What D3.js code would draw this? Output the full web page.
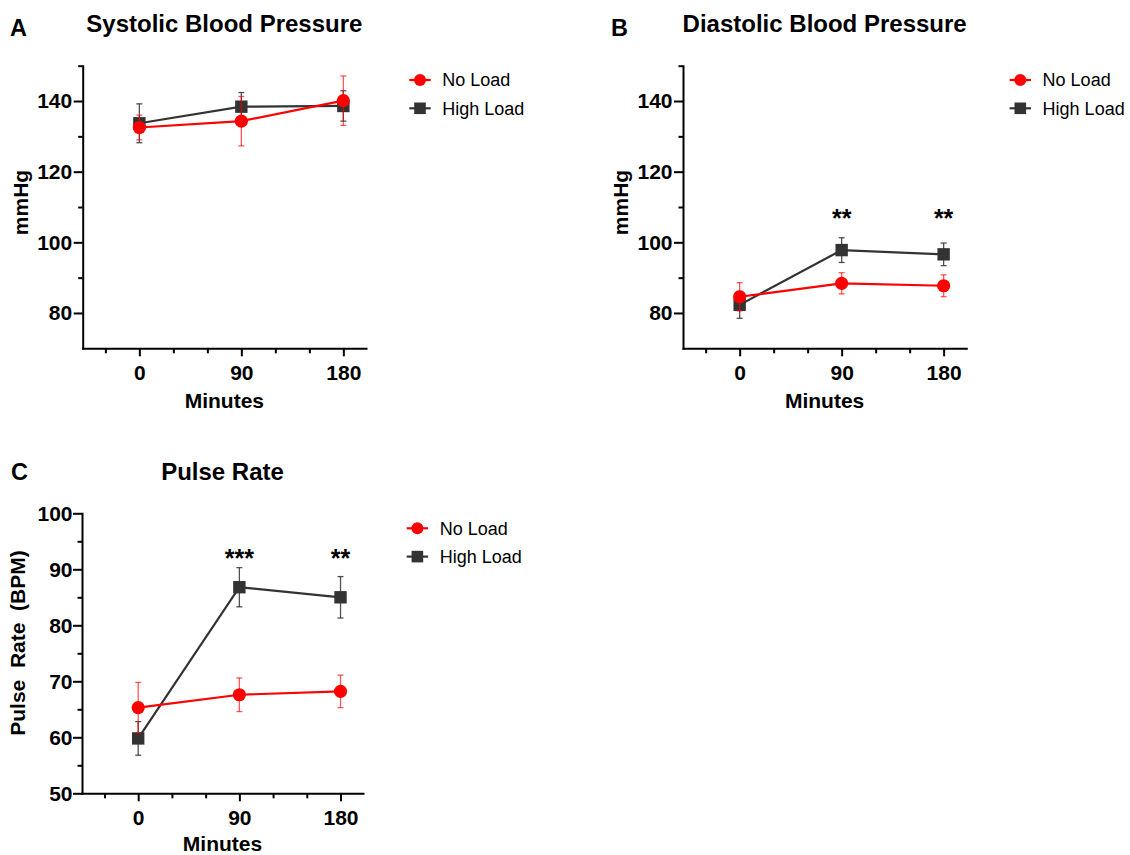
<!DOCTYPE html>
<html>
<head>
<meta charset="utf-8">
<title>Blood pressure and pulse</title>
<script src="https://cdn.jsdelivr.net/npm/d3@7"></script>
<style>
  body { margin: 0; background: #fff; }
  svg { display: block; font-family: "Liberation Sans", Arial, Helvetica, sans-serif; }
  .axis text { font-size: 21px; font-weight: bold; fill: #000; }
  .axis path, .axis line { stroke: #000; stroke-width: 2; }
  .axis path { stroke-linecap: square; }
</style>
</head>
<body>
<script>
// time points and labels
var minutes = [0, 90, 180];
var xMajorTicks = [0, 90, 180];
var xMinorTicks = [-30, 30, 60, 120, 150];
var seriesNames = ["No Load", "High Load"];

// systolic (mmHg), mean and error
var sbpNoLoad = [132.5, 134.3, 140.1];
var sbpNoLoadErr = [3.5, 7.0, 7.0];
var sbpHighLoad = [133.7, 138.4, 138.6];
var sbpHighLoadErr = [5.5, 4.0, 4.3];

// diastolic (mmHg)
var dbpNoLoad = [84.6, 88.4, 87.7];
var dbpNoLoadErr = [4.0, 3.0, 3.1];
var dbpHighLoad = [82.3, 97.8, 96.6];
var dbpHighLoadErr = [3.8, 3.5, 3.2];
var dbpStars = ["", "**", "**"];

// pulse rate (BPM)
var prNoLoad = [65.3, 67.6, 68.2];
var prNoLoadErr = [4.5, 3.0, 2.9];
var prHighLoad = [59.8, 86.8, 85.0];
var prHighLoadErr = [3.0, 3.5, 3.7];
var prStars = ["", "***", "**"];

// axis ticks
var bpMajorTicks = [80, 100, 120, 140];
var bpMinorTicks = [90, 110, 130, 150];
var prMajorTicks = [50, 60, 70, 80, 90, 100];
var prMinorTicks = [55, 65, 75, 85, 95];

var RED = "#ff0000", DARK = "#333333";

var svg = d3.select("body").append("svg")
  .attr("width", 1130)
  .attr("height", 855);

function drawPanel(p) {
  var x = d3.scaleLinear().domain([-50, 200]).range(p.xRange);
  var y = d3.scaleLinear().domain(p.yDomain).range(p.yRange);
  var g = svg.append("g");

  // y axis: major with labels, minor without
  g.append("g").attr("class", "axis")
    .attr("transform", "translate(" + p.xRange[0] + ",0)")
    .call(d3.axisLeft(y).tickValues(p.yMajor).tickSize(9).tickSizeOuter(0).tickPadding(p.yPad));
  g.append("g").attr("class", "axis")
    .attr("transform", "translate(" + p.xRange[0] + ",0)")
    .call(d3.axisLeft(y).tickValues(p.yMinor).tickSize(4.5).tickFormat(""))
    .select(".domain").remove();

  // x axis
  g.append("g").attr("class", "axis")
    .attr("transform", "translate(0," + p.yRange[0] + ")")
    .call(d3.axisBottom(x).tickValues(xMajorTicks).tickSize(8).tickSizeOuter(0).tickPadding(9));
  g.append("g").attr("class", "axis")
    .attr("transform", "translate(0," + p.yRange[0] + ")")
    .call(d3.axisBottom(x).tickValues(xMinorTicks).tickSize(5).tickFormat(""))
    .select(".domain").remove();

  // titles and labels
  var xMid = (p.xRange[0] + p.xRange[1]) / 2;
  g.append("text").text(p.title)
    .attr("x", xMid).attr("y", p.titleY)
    .attr("text-anchor", "middle")
    .style("font-size", "24px").style("font-weight", "bold");
  g.append("text").text(p.letter)
    .attr("x", p.letterX).attr("y", p.letterY)
    .style("font-size", "23.5px").style("font-weight", "bold");
  g.append("text").text("Minutes")
    .attr("x", xMid).attr("y", p.yRange[0] + p.minutesDy)
    .attr("text-anchor", "middle")
    .style("font-size", "21px").style("font-weight", "bold");
  g.append("text").text(p.yLabel)
    .attr("transform", "translate(" + p.yLabelX + "," + p.yLabelY + ") rotate(-90)")
    .attr("text-anchor", "middle")
    .style("white-space", "pre")
    .style("font-size", "21px").style("font-weight", "bold");

  // series: high load drawn first, no load on top
  var series = [
    { name: seriesNames[1], vals: p.high, err: p.highErr, color: DARK, shape: "square" },
    { name: seriesNames[0], vals: p.none, err: p.noneErr, color: RED, shape: "circle" }
  ];
  var line = d3.line()
    .x(function(d) { return x(d.t); })
    .y(function(d) { return y(d.v); });

  series.forEach(function(s) {
    var pts = minutes.map(function(t, i) { return { t: t, v: s.vals[i], e: s.err[i] }; });
    var sg = g.append("g");
    var eb = sg.selectAll("g.err").data(pts).enter().append("g")
      .attr("class", "err")
      .attr("stroke", s.color)
      .attr("stroke-opacity", s.color == RED ? 0.65 : 0.85)
      .attr("stroke-width", 1.3);
    eb.append("line")
      .attr("x1", function(d) { return x(d.t); }).attr("x2", function(d) { return x(d.t); })
      .attr("y1", function(d) { return y(d.v - d.e); }).attr("y2", function(d) { return y(d.v + d.e); });
    eb.append("line")
      .attr("x1", function(d) { return x(d.t) - 3; }).attr("x2", function(d) { return x(d.t) + 3; })
      .attr("y1", function(d) { return y(d.v + d.e); }).attr("y2", function(d) { return y(d.v + d.e); });
    eb.append("line")
      .attr("x1", function(d) { return x(d.t) - 3; }).attr("x2", function(d) { return x(d.t) + 3; })
      .attr("y1", function(d) { return y(d.v - d.e); }).attr("y2", function(d) { return y(d.v - d.e); });

    sg.append("path").datum(pts)
      .attr("d", line)
      .attr("fill", "none")
      .attr("stroke", s.color)
      .attr("stroke-width", 2.2);

    if (s.shape == "circle") {
      sg.selectAll("circle").data(pts).enter().append("circle")
        .attr("cx", function(d) { return x(d.t); })
        .attr("cy", function(d) { return y(d.v); })
        .attr("r", 6.6)
        .attr("fill", s.color);
    } else {
      sg.selectAll("rect").data(pts).enter().append("rect")
        .attr("x", function(d) { return x(d.t) - 6.2; })
        .attr("y", function(d) { return y(d.v) - 6.2; })
        .attr("width", 12.4).attr("height", 12.4)
        .attr("fill", s.color);
    }
  });

  // significance stars
  if (p.stars) {
    g.selectAll("text.star").data(minutes).enter().append("text")
      .attr("class", "star")
      .text(function(d, i) { return p.stars[i]; })
      .attr("x", function(d) { return x(d); })
      .attr("y", y(p.starsAt) + 14)
      .attr("text-anchor", "middle")
      .style("font-size", "25px").style("font-weight", "bold");
  }

  // legend
  var legendItems = [
    { name: seriesNames[0], color: RED, shape: "circle" },
    { name: seriesNames[1], color: DARK, shape: "square" }
  ];
  var lg = g.append("g").attr("transform", "translate(" + p.legendX + "," + p.legendY + ")");
  var li = lg.selectAll("g").data(legendItems).enter().append("g")
    .attr("transform", function(d, i) { return "translate(0," + (i * 28.3) + ")"; });
  li.append("line")
    .attr("x1", 0).attr("x2", 21.4)
    .attr("stroke", function(d) { return d.color; })
    .attr("stroke-width", 2.2);
  li.each(function(d) {
    var sel = d3.select(this);
    if (d.shape == "circle") {
      sel.append("circle").attr("cx", 10.7).attr("r", 6).attr("fill", d.color);
    } else {
      sel.append("rect").attr("x", 4.9).attr("y", -5.8).attr("width", 11.6).attr("height", 11.6).attr("fill", d.color);
    }
  });
  li.append("text")
    .text(function(d) { return d.name; })
    .attr("x", 33).attr("dy", "0.35em")
    .style("font-size", "18px");
}

drawPanel({
  letter: "A", letterX: 10, letterY: 36,
  title: "Systolic Blood Pressure", titleY: 31.7,
  yLabel: "mmHg", yLabelX: 27.5, yLabelY: 202.5,
  xRange: [82.7, 366], yRange: [348.3, 65.7], yDomain: [70, 150],
  yMajor: bpMajorTicks, yMinor: bpMinorTicks, yPad: 1.5, minutesDy: 59.7,
  none: sbpNoLoad, noneErr: sbpNoLoadErr, high: sbpHighLoad, highErr: sbpHighLoadErr,
  legendX: 409.3, legendY: 80
});

drawPanel({
  letter: "B", letterX: 611, letterY: 36,
  title: "Diastolic Blood Pressure", titleY: 31.7,
  yLabel: "mmHg", yLabelX: 627.8, yLabelY: 202.5,
  xRange: [683, 966.3], yRange: [348.3, 65.7], yDomain: [70, 150],
  yMajor: bpMajorTicks, yMinor: bpMinorTicks, yPad: 1.5, minutesDy: 59.7,
  none: dbpNoLoad, noneErr: dbpNoLoadErr, high: dbpHighLoad, highErr: dbpHighLoadErr,
  stars: dbpStars, starsAt: 108.3,
  legendX: 1009.6, legendY: 80
});

drawPanel({
  letter: "C", letterX: 11, letterY: 480,
  title: "Pulse Rate", titleY: 479.5,
  yLabel: "Pulse  Rate  (BPM)", yLabelX: 25, yLabelY: 643,
  xRange: [82, 363], yRange: [793.3, 513.3], yDomain: [50, 100],
  yMajor: prMajorTicks, yMinor: prMinorTicks, yPad: 0.5, minutesDy: 57.5,
  none: prNoLoad, noneErr: prNoLoadErr, high: prHighLoad, highErr: prHighLoadErr,
  stars: prStars, starsAt: 92.9,
  legendX: 406.7, legendY: 528.3
});
</script>
</body>
</html>
